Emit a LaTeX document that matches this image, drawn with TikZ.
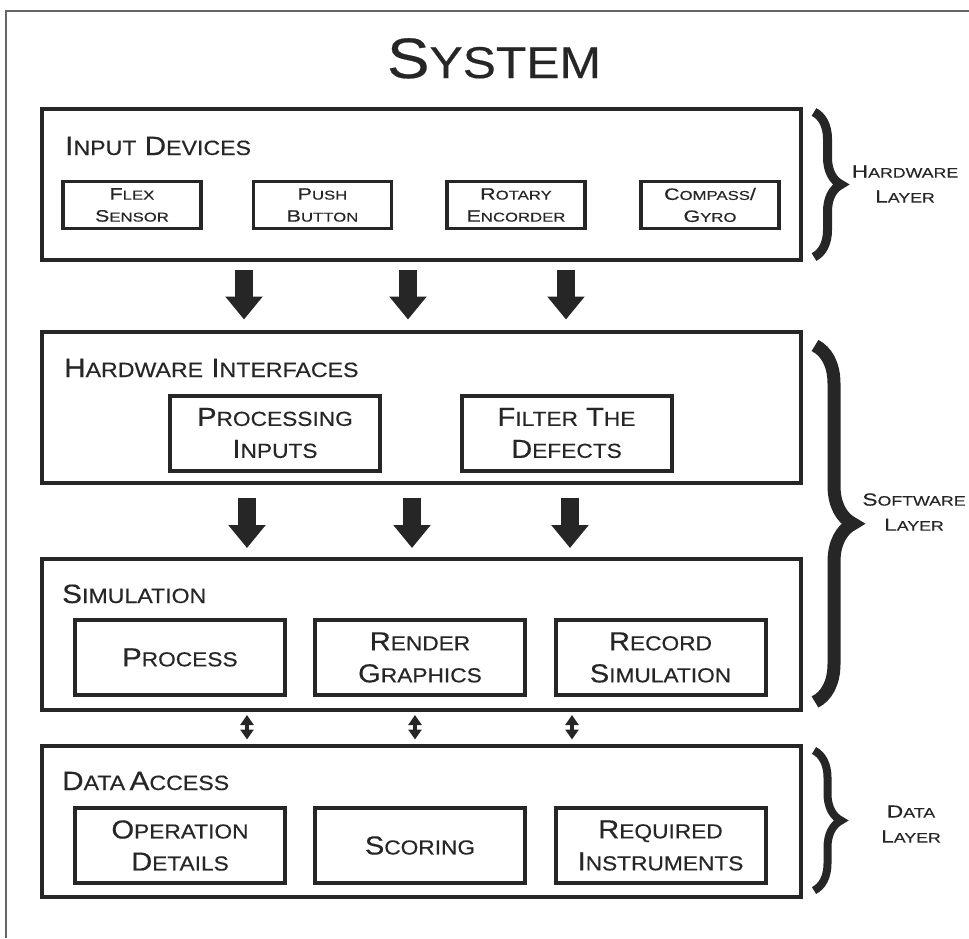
\documentclass[tikz,border=0pt]{standalone}
\usepackage{fontspec}
\setmainfont[FakeStretch=1.12,FakeBold=0.4]{Liberation Sans}
\newfontfamily\widefont[FakeStretch=1.3,FakeBold=0.3]{Liberation Sans}
\usetikzlibrary{arrows.meta,decorations.pathreplacing}

\newcommand\sk[2]{#1\scalebox{.78}{#2}}

\begin{document}
\begin{tikzpicture}[x=1pt, y=-1pt, color=black!85,
      layer/.style = {draw, rectangle, line width=4pt, minimum width=759pt, minimum height=151pt},
      unit/.style = {draw, rectangle, line width=4pt, minimum width=210pt, minimum height=75pt,
                     align=center, font=\fontsize{26}{32}\selectfont},
      device/.style = {draw, rectangle, line width=3.5pt, minimum width=138pt, minimum height=47pt,
                       align=center, font=\widefont\fontsize{16.5}{22}\selectfont},
      heading/.style = {anchor=base west, inner sep=0pt, font=\fontsize{26.5}{30}\selectfont},
      side/.style = {align=center, font=\widefont\fontsize{17.5}{25}\selectfont},
      bigarrow/.style = {line width=18pt, -{Triangle[width=36pt,length=23pt]}},
      duoarrow/.style = {line width=3.5pt, {Triangle[width=13pt,length=10pt]}-{Triangle[width=13pt,length=10pt]}},
      bracket/.style = {decorate, decoration={brace, amplitude=#1}}
      ]
      \useasboundingbox (0,0) rectangle (969,938);
      \draw[black!60, line width=1.5pt] (969,11) -- (6,11) -- (6,938);

      \node[anchor=base, font=\fontsize{57}{60}\selectfont] (title) at (494,78) {\sk{S}{YSTEM}};

      % layers
      \node[layer] (inp) at (421.5,184.5) {};
      \node[layer] (hwi) at (421.5,407) {};
      \node[layer] (sim) at (421.5,634.5) {};
      \node[layer] (dat) at (421.5,821) {};

      \node[heading] (inptitle) at (65,155) {\sk{I}{NPUT} \sk{D}{EVICES}};
      \node[heading] (hwititle) at (64,377) {\sk{H}{ARDWARE} \sk{I}{NTERFACES}};
      \node[heading] (simtitle) at (62,603) {\sk{S}{IMULATION}};
      \node[heading] (dattitle) at (62,790) {\sk{D}{ATA}\,\sk{A}{CCESS}};

      % input devices
      \node[device] (flex) at (132,205) {\sk{F}{LEX}\\\sk{S}{ENSOR}};
      \node[device] (push) at (322.5,205) {\sk{P}{USH}\\\sk{B}{UTTON}};
      \node[device] (rotary) at (516,205) {\sk{R}{OTARY}\\\sk{E}{NCORDER}};
      \node[device] (compass) at (710,205) {\sk{C}{OMPASS}/\\\sk{G}{YRO}};

      % hardware interfaces
      \node[unit] (procin) at (275,433) {\sk{P}{ROCESSING}\\\sk{I}{NPUTS}};
      \node[unit] (filter) at (566.5,433) {\sk{F}{ILTER} \sk{T}{HE}\\\sk{D}{EFECTS}};

      % simulation
      \node[unit] (process) at (180,657.5) {\sk{P}{ROCESS}};
      \node[unit] (render) at (420,657.5) {\sk{R}{ENDER}\\\sk{G}{RAPHICS}};
      \node[unit] (record) at (660.5,657.5) {\sk{R}{ECORD}\\\sk{S}{IMULATION}};

      % data access
      \node[unit] (opdet) at (180,845.5) {\sk{O}{PERATION}\\\sk{D}{ETAILS}};
      \node[unit] (scoring) at (420,845.5) {\sk{S}{CORING}};
      \node[unit] (reqins) at (660.5,845.5) {\sk{R}{EQUIRED}\\\sk{I}{NSTRUMENTS}};

      % arrows between layers
      \foreach \x [count=\i] in {244,408,566}
      {
            \coordinate (a\i) at (\x,0);
            \draw[bigarrow, shorten <=8pt, shorten >=10pt] (inp.south -| a\i) -- (hwi.north -| a\i);
      }
      \foreach \x [count=\i] in {247,412,570}
      {
            \coordinate (b\i) at (\x,0);
            \draw[bigarrow, shorten <=13pt, shorten >=9pt] (hwi.south -| b\i) -- (sim.north -| b\i);
      }
      \foreach \x [count=\i] in {247,415,572}
      {
            \coordinate (c\i) at (\x,0);
            \draw[duoarrow, shorten <=3pt, shorten >=4pt] (sim.south -| c\i) -- (dat.north -| c\i);
      }

      % layer braces
      \draw[bracket=27pt, line width=9pt] ([xshift=11pt,yshift=-5pt]inp.north east) -- ([xshift=11pt,yshift=5pt]inp.south east);
      \draw[bracket=38pt, line width=13pt] ([xshift=12pt,yshift=-16pt]hwi.north east) -- ([xshift=12pt,yshift=10pt]sim.south east);
      \draw[bracket=27pt, line width=8pt] ([xshift=11pt,yshift=-7pt]dat.north east) -- ([xshift=11pt,yshift=8pt]dat.south east);

      \node[side] (hwlayer) at (905,184) {\sk{H}{ARDWARE}\\\sk{L}{AYER}};
      \node[side] (swlayer) at (914,512) {\sk{S}{OFTWARE}\\\sk{L}{AYER}};
      \node[side] (dlayer) at (911,824) {\sk{D}{ATA}\\\sk{L}{AYER}};
\end{tikzpicture}
\end{document}
